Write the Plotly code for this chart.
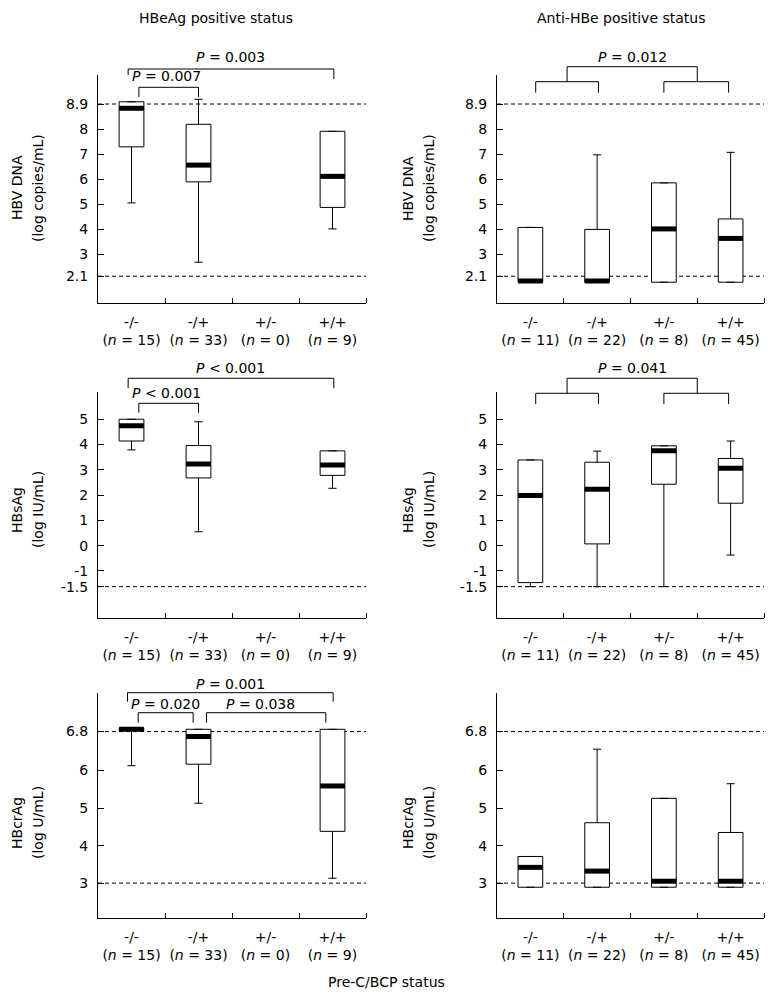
import plotly.graph_objects as go

# ---------------- data ----------------
CATS = ["-/-", "-/+", "+/-", "+/+"]
N_HBEAG = [15, 33, 0, 9]
N_ANTIHBE = [11, 22, 8, 45]

# HBeAg-positive panels: boxes only for the groups with n > 0
POS_HBEAG = [0, 1, 3]
POS_ANTIHBE = [0, 1, 2, 3]

# HBV DNA (log copies/mL)
DNA_E_Q1 = [7.29, 5.89, 4.87]
DNA_E_MED = [8.83, 6.56, 6.11]
DNA_E_Q3 = [9.09, 8.19, 7.91]
DNA_E_LO = [5.05, 2.68, 4.01]
DNA_E_HI = [9.09, 9.19, 7.91]

DNA_A_Q1 = [1.88, 1.88, 1.88, 1.88]
DNA_A_MED = [1.93, 1.93, 4.01, 3.63]
DNA_A_Q3 = [4.07, 3.99, 5.85, 4.41]
DNA_A_LO = [1.88, 1.88, 1.88, 1.88]
DNA_A_HI = [4.07, 6.97, 5.85, 7.07]

# HBsAg (log IU/mL)
HBS_E_Q1 = [4.14, 2.68, 2.78]
HBS_E_MED = [4.74, 3.23, 3.19]
HBS_E_Q3 = [5.00, 3.96, 3.75]
HBS_E_LO = [3.79, 0.55, 2.27]
HBS_E_HI = [5.00, 4.90, 3.75]

HBS_A_Q1 = [-1.46, 0.07, 2.43, 1.68]
HBS_A_MED = [1.98, 2.23, 3.75, 3.06]
HBS_A_Q3 = [3.39, 3.30, 3.95, 3.45]
HBS_A_LO = [-1.62, -1.62, -1.62, -0.37]
HBS_A_HI = [3.39, 3.74, 3.95, 4.14]

# HBcrAg (log U/mL)
CR_E_Q1 = [7.07, 6.17, 4.38]
CR_E_MED = [7.10, 6.91, 5.59]
CR_E_Q3 = [7.12, 7.10, 7.10]
CR_E_LO = [6.13, 5.13, 3.13]
CR_E_HI = [7.12, 7.10, 7.10]

CR_A_Q1 = [2.89, 2.89, 2.89, 2.89]
CR_A_MED = [3.42, 3.32, 3.05, 3.05]
CR_A_Q3 = [3.71, 4.61, 5.26, 4.35]
CR_A_LO = [2.89, 2.89, 2.89, 2.89]
CR_A_HI = [3.71, 6.57, 5.26, 5.65]

# y tick positions as drawn in the picture, and their labels
DNA_TICKS = [2.12, 3, 4, 5, 6, 7, 8, 9.0]
DNA_TICKTEXT = ["2.1", "3", "4", "5", "6", "7", "8", "8.9"]
DNA_LIMITS = [2.12, 9.0]
HBS_TICKS = [-1.62, -1, 0, 1, 2, 3, 4, 5]
HBS_TICKTEXT = ["-1.5", "-1", "0", "1", "2", "3", "4", "5"]
HBS_LIMITS = [-1.62]
CR_TICKS = [3, 4, 5, 6, 7.04]
CR_TICKTEXT = ["3", "4", "5", "6", "6.8"]
CR_LIMITS = [3, 7.04]

Y_TITLES = [("HBV DNA", "(log copies/mL)"), ("HBsAg", "(log IU/mL)"), ("HBcrAg", "(log U/mL)")]
COL_TITLES = ["HBeAg positive status", "Anti-HBe positive status"]
X_TITLE = "Pre-C/BCP status"

# ---------------- layout geometry (pixels) ----------------
W, H = 777, 996
COL_X = [(98, 366), (497, 764)]
ROW_Y = [(75, 303), (391.7, 618), (693.3, 918)]
Y_RANGES = [(1.05, 10.16), (-2.86, 6.09), (2.07, 8.06)]
XR = (-0.5, 3.5)
BOXW = 0.37
FONT = "DejaVu Sans"


def fx(p):
    return p / W


def fy(p):
    return 1 - p / H


def xdom(c):
    return (c - XR[0]) / (XR[1] - XR[0])


fig = go.Figure()

panels = [
    (0, 0, POS_HBEAG, DNA_E_Q1, DNA_E_MED, DNA_E_Q3, DNA_E_LO, DNA_E_HI, DNA_TICKS, DNA_TICKTEXT, DNA_LIMITS, N_HBEAG),
    (0, 1, POS_ANTIHBE, DNA_A_Q1, DNA_A_MED, DNA_A_Q3, DNA_A_LO, DNA_A_HI, DNA_TICKS, DNA_TICKTEXT, DNA_LIMITS, N_ANTIHBE),
    (1, 0, POS_HBEAG, HBS_E_Q1, HBS_E_MED, HBS_E_Q3, HBS_E_LO, HBS_E_HI, HBS_TICKS, HBS_TICKTEXT, HBS_LIMITS, N_HBEAG),
    (1, 1, POS_ANTIHBE, HBS_A_Q1, HBS_A_MED, HBS_A_Q3, HBS_A_LO, HBS_A_HI, HBS_TICKS, HBS_TICKTEXT, HBS_LIMITS, N_ANTIHBE),
    (2, 0, POS_HBEAG, CR_E_Q1, CR_E_MED, CR_E_Q3, CR_E_LO, CR_E_HI, CR_TICKS, CR_TICKTEXT, CR_LIMITS, N_HBEAG),
    (2, 1, POS_ANTIHBE, CR_A_Q1, CR_A_MED, CR_A_Q3, CR_A_LO, CR_A_HI, CR_TICKS, CR_TICKTEXT, CR_LIMITS, N_ANTIHBE),
]

shapes = []
annotations = []
layout_axes = {}

for k, (r, c, pos, q1, med, q3, lo, hi, tv, tt, lims, ns) in enumerate(panels):
    sx = "" if k == 0 else str(k + 1)
    xa, ya = "x" + sx, "y" + sx
    fig.add_trace(go.Box(
        x=pos, q1=q1, median=med, q3=q3, lowerfence=lo, upperfence=hi,
        width=BOXW, whiskerwidth=0.33, fillcolor="white",
        line=dict(color="black", width=1), boxpoints=False,
        xaxis=xa, yaxis=ya, showlegend=False, hoverinfo="skip"))
    mx, my = [], []
    for p, m in zip(pos, med):
        mx += [p - BOXW / 2, p + BOXW / 2, None]
        my += [m, m, None]
    fig.add_trace(go.Scatter(x=mx, y=my, mode="lines", line=dict(color="black", width=5),
                             xaxis=xa, yaxis=ya, showlegend=False, hoverinfo="skip"))
    x0, x1 = COL_X[c]
    yt, yb = ROW_Y[r]
    layout_axes["xaxis" + sx] = dict(
        domain=[fx(x0), fx(x1)], range=list(XR), anchor=ya,
        showline=True, linecolor="black", linewidth=1, showgrid=False, zeroline=False,
        tickmode="array", tickvals=list(range(len(CATS))),
        ticktext=[f"{cat}<br>(<i>n</i> = {n})" for cat, n in zip(CATS, ns)],
        ticks="", ticklabelstandoff=6,
        minor=dict(tickmode="array", tickvals=[0.5, 1.5, 2.5, 3.5], ticks="inside",
                   ticklen=5, tickcolor="black", tickwidth=1, showgrid=False),
        tickfont=dict(family=FONT, size=14, color="black"), fixedrange=True)
    layout_axes["yaxis" + sx] = dict(
        domain=[fy(yb), fy(yt)], range=list(Y_RANGES[r]), anchor=xa,
        showline=True, linecolor="black", linewidth=1, showgrid=False, zeroline=False,
        tickmode="array", tickvals=tv, ticktext=tt, ticks="inside", ticklen=6,
        tickcolor="black", ticklabelstandoff=6,
        tickfont=dict(family=FONT, size=14, color="black"), fixedrange=True)
    for lim in lims:
        shapes.append(dict(type="line", xref=xa + " domain", yref=ya, x0=0, x1=1, y0=lim, y1=lim,
                           line=dict(color="black", width=1, dash="4px,3px"), layer="below"))
    # y-axis titles
    tx = 17 if c == 0 else 408
    ty = [188, 510, 823][r]
    for j, line in enumerate(Y_TITLES[r]):
        annotations.append(dict(text=line, x=fx(tx + 21 * j), y=fy(ty), xref="paper", yref="paper",
                                textangle=-90, showarrow=False, xanchor="center", yanchor="middle",
                                font=dict(family=FONT, size=14, color="black")))


def bracket(k, ca, cb, yl, ya_end, yb_end):
    sx = "" if k == 0 else str(k + 1)
    xr = "x" + sx + " domain"
    shapes.append(dict(type="line", xref=xr, yref="paper", x0=xdom(ca), x1=xdom(cb), y0=fy(yl), y1=fy(yl),
                       line=dict(color="black", width=1)))
    shapes.append(dict(type="line", xref=xr, yref="paper", x0=xdom(ca), x1=xdom(ca), y0=fy(yl), y1=fy(ya_end),
                       line=dict(color="black", width=1)))
    shapes.append(dict(type="line", xref=xr, yref="paper", x0=xdom(cb), x1=xdom(cb), y0=fy(yl), y1=fy(yb_end),
                       line=dict(color="black", width=1)))


def ptext(k, cx, y, txt):
    sx = "" if k == 0 else str(k + 1)
    annotations.append(dict(text=txt, x=xdom(cx), y=fy(y), xref="x" + sx + " domain", yref="paper",
                            showarrow=False, xanchor="center", yanchor="middle",
                            font=dict(family=FONT, size=14, color="black")))


# top-left
bracket(0, -0.05, 3.02, 69, 75, 79)
ptext(0, 1.48, 57, "<i>P</i> = 0.003")
bracket(0, 0.11, 1.0, 87.3, 97, 97)
ptext(0, 0.52, 76, "<i>P</i> = 0.007")
# top-right
bracket(1, 0.08, 1.02, 81.7, 92.7, 92.7)
bracket(1, 2.0, 2.97, 81.7, 92.7, 92.7)
bracket(1, 0.55, 2.5, 66.7, 81.7, 81.7)
ptext(1, 1.53, 57, "<i>P</i> = 0.012")
# middle-left
bracket(2, -0.05, 3.02, 378.3, 388.3, 388.3)
ptext(2, 1.48, 368.3, "<i>P</i> &lt; 0.001")
bracket(2, 0.11, 1.0, 403.3, 412.7, 412.7)
ptext(2, 0.52, 393.3, "<i>P</i> &lt; 0.001")
# middle-right
bracket(3, 0.08, 1.02, 393.3, 404, 404)
bracket(3, 2.0, 2.97, 393.3, 404, 404)
bracket(3, 0.55, 2.5, 378.3, 393.3, 393.3)
ptext(3, 1.53, 368.3, "<i>P</i> = 0.041")
# bottom-left
bracket(4, -0.06, 3.01, 692.7, 701.7, 701.7)
ptext(4, 1.48, 684, "<i>P</i> = 0.001")
bracket(4, 0.10, 0.92, 712.7, 722.7, 722.7)
ptext(4, 0.5, 704.3, "<i>P</i> = 0.020")
bracket(4, 1.12, 2.90, 712.7, 722.7, 722.7)
ptext(4, 1.93, 704.3, "<i>P</i> = 0.038")

# column titles and common x title
for cx, t in zip([216, 621], COL_TITLES):
    annotations.append(dict(text=t, x=fx(cx), y=fy(18), xref="paper", yref="paper", showarrow=False,
                            xanchor="center", yanchor="middle",
                            font=dict(family=FONT, size=14, color="black")))
annotations.append(dict(text=X_TITLE, x=fx(386), y=fy(982), xref="paper", yref="paper", showarrow=False,
                        xanchor="center", yanchor="middle",
                        font=dict(family=FONT, size=14, color="black")))

fig.update_layout(
    width=W, height=H, margin=dict(l=0, r=0, t=0, b=0),
    paper_bgcolor="white", plot_bgcolor="white",
    font=dict(family=FONT, size=14, color="black"),
    shapes=shapes, annotations=annotations, showlegend=False,
    **layout_axes)

fig.write_html("out.html", config={"displayModeBar": False, "staticPlot": True},
               post_script="document.body.style.margin='0px';document.body.style.overflow='hidden';")
